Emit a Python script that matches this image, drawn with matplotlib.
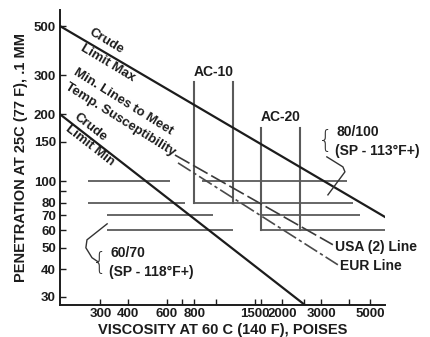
import matplotlib
matplotlib.use("Agg")
import matplotlib.pyplot as plt
from matplotlib.ticker import FixedLocator, FixedFormatter, NullFormatter

plt.rcParams['font.family'] = ['Liberation Sans', 'DejaVu Sans']
plt.rcParams['font.weight'] = 'bold'

# Axis ranges (viscosity in poises, penetration in 0.1 mm)
visc_range = [197, 5820]
pen_range = [27.6, 590]

# Crude oil limit lines: (viscosity, penetration) end points
crude_max_visc = [197, 5820]
crude_max_pen = [500, 68.9]
crude_min_visc = [197, 2530]
crude_min_pen = [200, 27.6]

# Minimum temperature susceptibility lines
usa_visc = [653, 3386]
usa_pen = [131, 51.6]
eur_visc = [674, 3567]
eur_pen = [120.7, 41.9]

# Penetration grade limits drawn as horizontal segments
grade_pens = [100, 80, 70, 60]
grade_segments = [
    [(264, 620), (865, 3920)],
    [(264, 725), (800, 4170)],
    [(322, 970), (1600, 4490)],
    [(322, 1200), (1600, 5820)],
]

# Viscosity grade boxes: (low visc, high visc, min pen, top of box)
ac_names = ['AC-10', 'AC-20']
ac_visc_low = [800, 1600]
ac_visc_high = [1200, 2400]
ac_pen_low = [80, 60]
ac_pen_top = [280, 174]

# Leader lines from grade notes to the penetration bands
lead_8010_visc = [3180, 3760, 3840, 3215]
lead_8010_pen = [128.5, 115.8, 110, 86.6]
lead_6070_visc = [322, 261, 258, 275, 293]
lead_6070_pen = [64.1, 54.3, 50, 45.1, 43.2]

x_major = [300, 400, 600, 800, 1500, 2000, 3000, 5000]
x_minor = [700, 1000, 1600, 2500, 4000]
y_major = [30, 40, 50, 60, 70, 80, 100, 150, 200, 300, 500]
y_minor = [90]

ink = '#1c1c1c'
grey = '#5a5a5a'

fig = plt.figure(figsize=(4.3, 3.37), dpi=100)
ax = fig.add_axes([0.1395, 0.095, 0.7555, 0.875])
ax.set_xscale('log')
ax.set_yscale('log')
ax.set_xlim(visc_range)
ax.set_ylim(pen_range)

for pen, segs in zip(grade_pens, grade_segments):
    for lo, hi in segs:
        ax.plot([lo, hi], [pen, pen], color=grey, lw=1.3, solid_capstyle='butt')

for lo, hi, pl, pt in zip(ac_visc_low, ac_visc_high, ac_pen_low, ac_pen_top):
    ax.plot([lo, lo], [pl, pt], color=grey, lw=1.5)
    ax.plot([hi, hi], [pl, pt], color=grey, lw=1.5)

ax.plot(crude_max_visc, crude_max_pen, color=ink, lw=1.6)
ax.plot(crude_min_visc, crude_min_pen, color=ink, lw=1.6)
ax.plot(usa_visc, usa_pen, color='#3a3a3a', lw=1.2, dashes=(10, 2.5))
ax.plot(eur_visc, eur_pen, color='#4a4a4a', lw=1.2, dashes=(9, 2, 2, 2))

ax.plot(lead_8010_visc, lead_8010_pen, color='#333333', lw=1.0)
ax.plot(lead_6070_visc, lead_6070_pen, color='#333333', lw=1.0)

tkw = dict(transform=ax.transAxes, color=ink, fontsize=9.5, fontweight='bold',
           ha='center', va='center', rotation_mode='anchor')
ax.text(0.1415, 0.895, 'Crude', rotation=-31, **tkw)
ax.text(0.148, 0.820, 'Limit Max', rotation=-31, **tkw)
ax.text(0.194, 0.688, 'Min. Lines to Meet', rotation=-32, **tkw)
ax.text(0.185, 0.627, 'Temp. Susceptibility', rotation=-32, **tkw)
ax.text(0.095, 0.603, 'Crude', rotation=-38, **tkw)
ax.text(0.092, 0.539, 'Limit Min', rotation=-38, **tkw)

for name, lo, hi, top in zip(ac_names, ac_visc_low, ac_visc_high, ac_pen_top):
    ax.text((lo * hi) ** 0.5, top * 1.035, name, color=ink, fontsize=10,
            fontweight='bold', ha='center', va='bottom')

nkw = dict(transform=ax.transAxes, color=ink, fontsize=10, fontweight='bold',
           ha='left', va='center')
ax.text(0.852, 0.586, '80/100', **nkw)
ax.text(0.846, 0.522, '(SP - 113°F+)', **nkw)
ax.text(0.154, 0.176, '60/70', **nkw)
ax.text(0.151, 0.112, '(SP - 118°F+)', **nkw)
ax.text(0.846, 0.197, 'USA (2) Line', **nkw)
ax.text(0.862, 0.132, 'EUR Line', **nkw)

bkw = dict(transform=ax.transAxes, color='#333333', fontsize=17, fontweight='light',
           ha='center', va='center', family='DejaVu Sans')
ax.text(0.818, 0.556, '{', **bkw)
ax.text(0.123, 0.142, '{', **bkw)

for s in ['top', 'right']:
    ax.spines[s].set_visible(False)
for s in ['left', 'bottom']:
    ax.spines[s].set_color(ink)
    ax.spines[s].set_linewidth(1.4)

ax.xaxis.set_major_locator(FixedLocator(x_major))
ax.xaxis.set_major_formatter(FixedFormatter([str(v) for v in x_major]))
ax.xaxis.set_minor_locator(FixedLocator(x_minor))
ax.xaxis.set_minor_formatter(NullFormatter())
ax.yaxis.set_major_locator(FixedLocator(y_major))
ax.yaxis.set_major_formatter(FixedFormatter([str(v) for v in y_major]))
ax.yaxis.set_minor_locator(FixedLocator(y_minor))
ax.yaxis.set_minor_formatter(NullFormatter())

ax.tick_params(which='both', direction='in', length=4, width=1.0, color=ink,
               labelsize=9.5, labelcolor=ink, pad=3)
ax.tick_params(axis='x', which='both', pad=2)

ax.set_xlabel('VISCOSITY AT 60 C (140 F), POISES', fontsize=10.5,
              fontweight='bold', color=ink, labelpad=2)
ax.set_ylabel('PENETRATION AT 25C (77 F), .1 MM', fontsize=10.5,
              fontweight='bold', color=ink, labelpad=4)

fig.savefig('out.png', dpi=100, facecolor='white')
